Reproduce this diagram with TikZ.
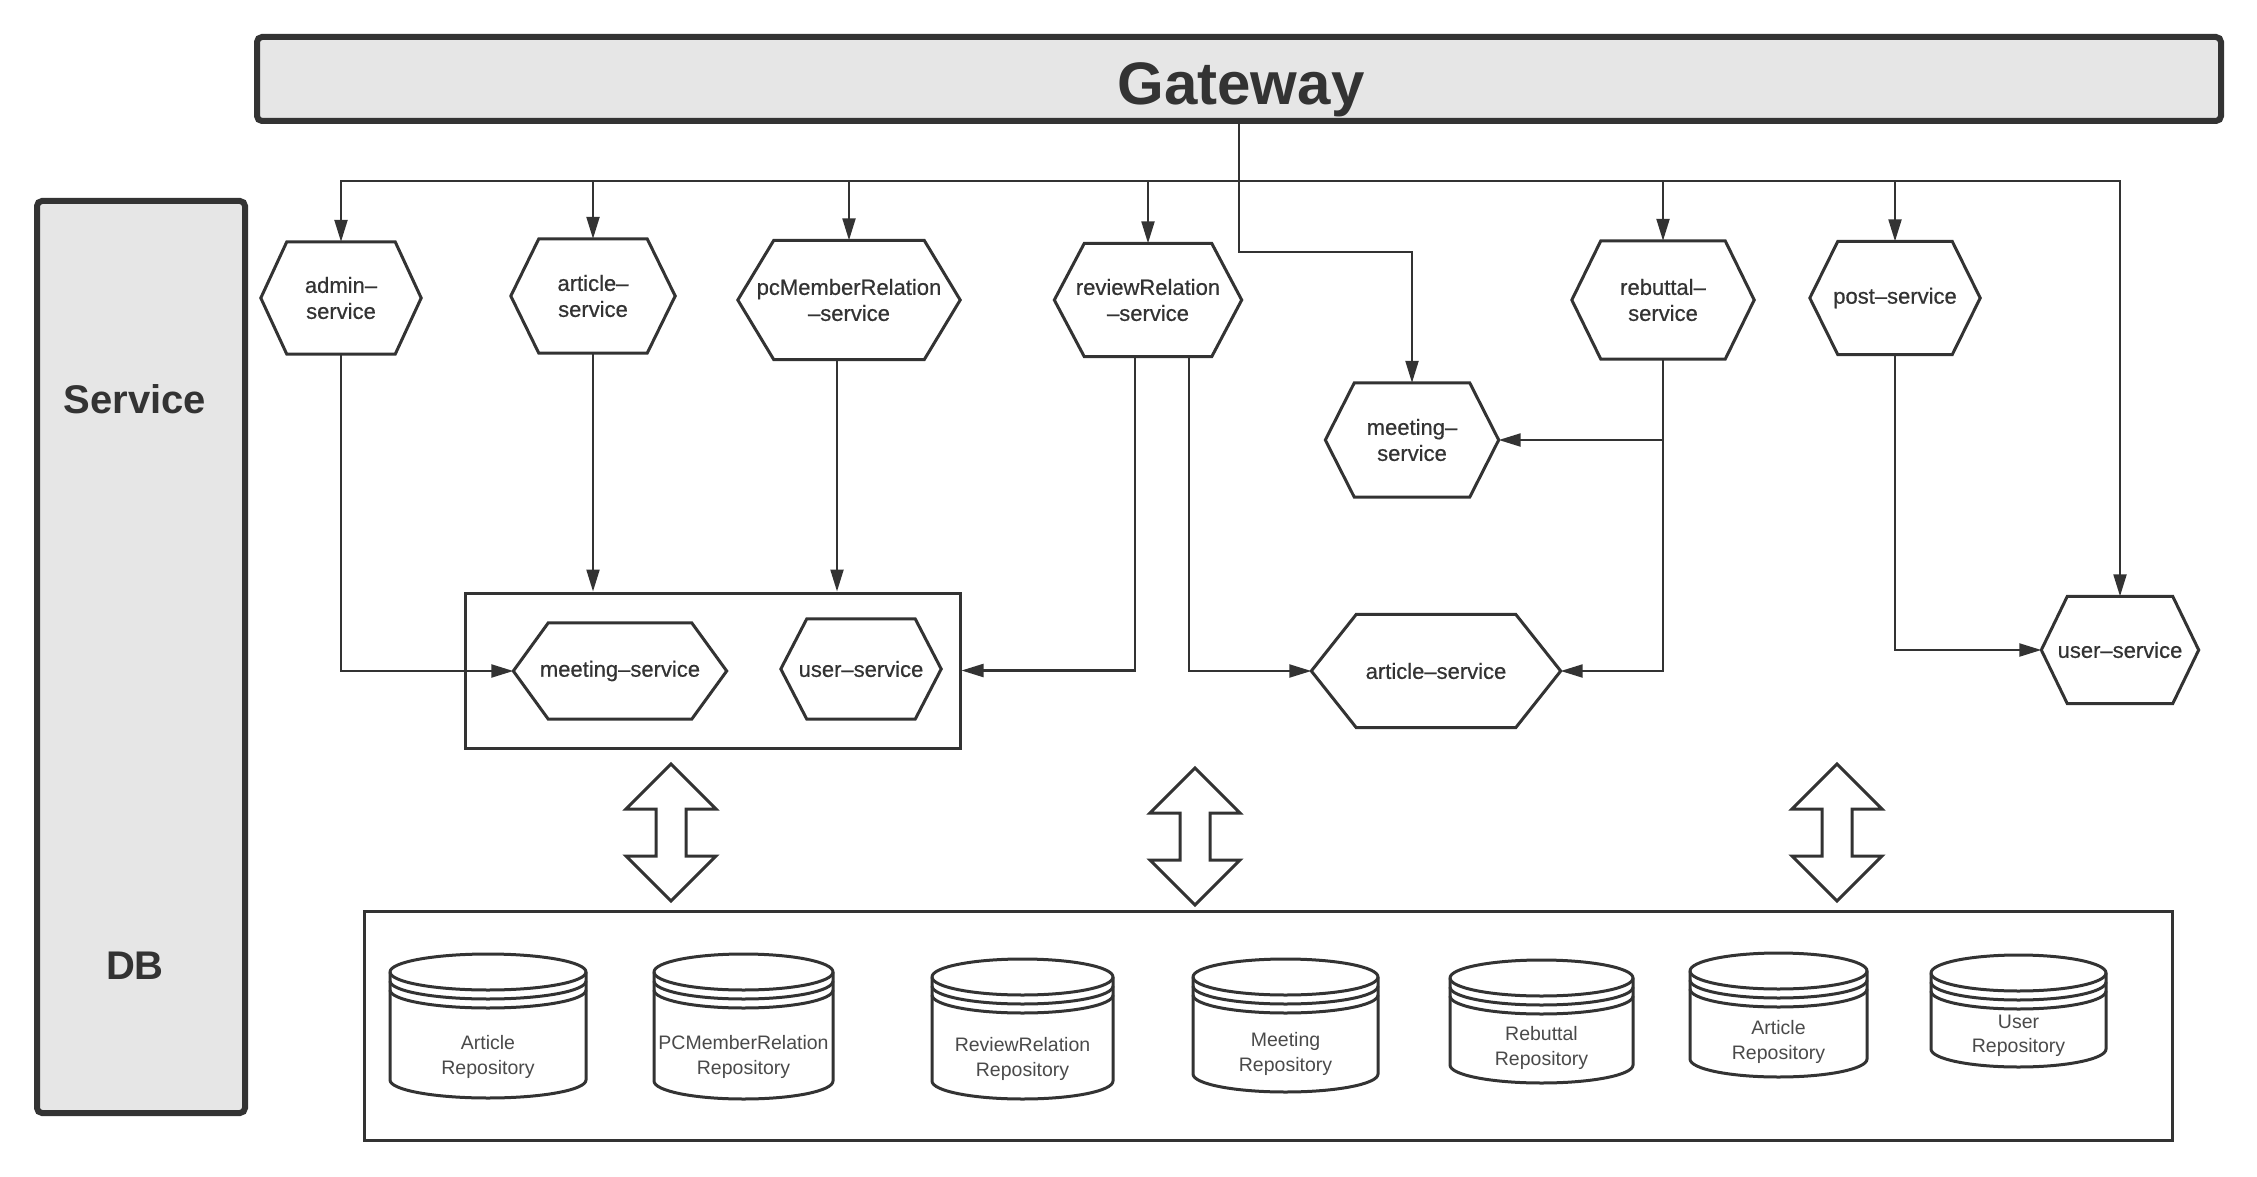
\documentclass[tikz,border=0pt]{standalone}
\usepackage{fontspec}
\setmainfont{Liberation Sans}
\newfontfamily\svcfont[Ligatures=TeX,FakeBold=0.6]{Liberation Sans}
\usetikzlibrary{arrows.meta}
\definecolor{linegray}{HTML}{333333}
\definecolor{repogray}{HTML}{4A4A4A}
\definecolor{panelgray}{HTML}{E6E6E6}
\tikzset{
  conn/.style={draw=linegray, line width=2.2pt, -{Triangle[length=22pt,width=13pt]}},
  svc/.style={rectangle, inner sep=0pt, align=center, text=linegray, font=\svcfont\fontsize{22}{26}\selectfont},
  hexline/.style={draw=linegray, line width=3pt},
  dbline/.style={draw=linegray, line width=3pt},
  repotext/.style={align=center, text=repogray, font=\fontsize{19.5}{24.5}\selectfont},
  boxline/.style={draw=linegray, line width=3pt, inner sep=0pt},
  band/.style={draw=linegray, fill=panelgray, line width=6pt, rounded corners=5pt, inner sep=0pt},
  bandtext/.style={text=linegray, anchor=base, font=\fontsize{40}{48}\selectfont\bfseries},
}
% hexagon service: name, cx, cy, width, height, indent, text
\newcommand{\hexsvc}[7]{%
  \node[svc, minimum width=#4pt, minimum height=#5pt] (#1) at (#2,-#3) {#7};
  \draw[hexline] (#1.west) -- ([xshift=#6pt]#1.north west) -- ([xshift=-#6pt]#1.north east)
    -- (#1.east) -- ([xshift=-#6pt]#1.south east) -- ([xshift=#6pt]#1.south west) -- cycle;
}
% repository drum: name, cx, top, width, bottom, text y, text
\newcommand{\repo}[7]{%
  \draw[dbline, fill=white] (#2-#4/2,-#3-18) -- (#2-#4/2,-#5+18)
    arc[start angle=180, end angle=360, x radius=#4/2, y radius=18]
    -- (#2+#4/2,-#3-18)
    arc[start angle=0, end angle=180, x radius=#4/2, y radius=18] -- cycle;
  \draw[dbline] (#2-#4/2,-#3-18) arc[start angle=180, end angle=360, x radius=#4/2, y radius=18];
  \draw[dbline] (#2-#4/2,-#3-27) arc[start angle=180, end angle=360, x radius=#4/2, y radius=18];
  \draw[dbline] (#2-#4/2,-#3-36) arc[start angle=180, end angle=360, x radius=#4/2, y radius=18];
  \node[repotext] (#1) at (#2,-#6) {#7};
}
\begin{document}
\begin{tikzpicture}[x=1pt,y=1pt]
\useasboundingbox (0,0) rectangle (2257,-1177);
% gateway and layers
\node[band, minimum width=1964pt, minimum height=84pt] (gw) at (1239,-79) {};
\node[text=linegray, anchor=base, font=\fontsize{60}{72}\selectfont\bfseries] (gwlabel) at (1241,-105) {Gateway};
\node[band, minimum width=208pt, minimum height=912pt] (layers) at (141,-657) {};
\node[bandtext] (svclabel) at (135,-413) {Service};
\node[bandtext] (dblabel) at (135,-979) {DB};
% boxes
\node[boxline, minimum width=495pt, minimum height=155pt] (grp) at (712.5,-670.5) {};
\node[boxline, minimum width=1808pt, minimum height=229pt] (db) at (1268,-1025.5) {};
% services, top row
\hexsvc{admin}{341}{298}{160}{112}{26}{admin--\\service}
\hexsvc{artT}{593}{296}{164}{114}{28}{article--\\service}
\hexsvc{pcm}{849}{300}{222}{119}{36}{pcMemberRelation\\--service}
\hexsvc{rev}{1148}{300}{187}{113}{30}{reviewRelation\\--service}
\hexsvc{reb}{1663}{300}{182}{118}{29}{rebuttal--\\service}
\hexsvc{post}{1895}{298}{170}{113}{28}{post--service}
\hexsvc{meetR}{1412}{440}{173}{114}{29}{meeting--\\service}
% services, middle row
\hexsvc{meetB}{620}{671}{213}{96}{35}{meeting--service}
\hexsvc{userB}{861}{669}{160}{100}{26}{user--service}
\hexsvc{artM}{1436}{671}{249}{113}{45}{article--service}
\hexsvc{userR}{2120}{650}{157}{107}{26}{user--service}
% gateway routes
\coordinate (bus) at (0,-181);
\coordinate (split) at (0,-252);
\foreach \s in {admin,artT,pcm,rev,reb,post,userR}
  \draw[conn] (gw.south) -- (gw.south |- bus) -| (\s.north);
\draw[conn] (gw.south) -- (gw.south |- split) -| (meetR.north);
% calls between services
\draw[conn] (admin.south) |- (meetB.west);
\draw[conn] (artT.south) -- (artT.south |- grp.north);
\draw[conn] ([xshift=-12pt]pcm.south) -- ([xshift=-12pt]pcm.south |- grp.north);
\draw[conn] ([xshift=-13pt]rev.south) |- (grp.east);
\draw[conn] ([xshift=41pt]rev.south) |- (artM.west);
\draw[conn] (reb.south) |- (meetR.east);
\draw[conn] (reb.south) |- (artM.east);
\draw[conn] (post.south) |- (userR.west);
% service <-> db
\foreach \ax/\ay in {671/764, 1195/768, 1837/764}
  \draw[dbline, fill=white] (\ax,-\ay) -- ++(45,-45) -- ++(-30,0) -- ++(0,-47) -- ++(30,0)
    -- ++(-45,-45) -- ++(-45,45) -- ++(30,0) -- ++(0,47) -- ++(-30,0) -- cycle;
% repositories
\repo{repoArt}{488}{954}{196}{1098}{1057}{Article\\Repository}
\repo{repoPcm}{743.5}{954}{179}{1099}{1057}{PCMemberRelation\\Repository}
\repo{repoRev}{1022.5}{959}{181}{1099}{1059}{ReviewRelation\\Repository}
\repo{repoMeet}{1285.5}{959}{185}{1092}{1054}{Meeting\\Repository}
\repo{repoReb}{1541.5}{960}{183}{1083}{1048}{Rebuttal\\Repository}
\repo{repoArt2}{1778.5}{953}{177}{1077}{1042}{Article\\Repository}
\repo{repoUser}{2018.5}{955}{175}{1067}{1036}{User\\Repository}
\end{tikzpicture}
\end{document}
